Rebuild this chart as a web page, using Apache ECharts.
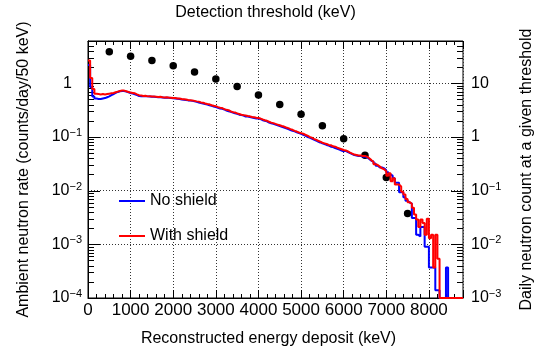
<!DOCTYPE html>
<html><head><meta charset="utf-8">
<script src="https://cdn.jsdelivr.net/npm/echarts@6/dist/echarts.min.js"></script>
<style>html,body{margin:0;padding:0;background:#fff}#c{width:551px;height:356px}</style>
</head><body><div id="c"></div>
<script>
// ---- data ----
const binWidth = 50; // keV per bin, bins start at 0
const withShield = [
2.65,1.25,0.78,0.64,0.63,0.62,0.63,0.62,0.63,0.64,
0.65,0.66,0.68,0.70,0.72,0.73,0.73,0.71,0.69,0.67,
0.66,0.65,0.62,0.60,0.59,0.58,0.585,0.57,0.575,0.565,
0.565,0.56,0.555,0.56,0.55,0.545,0.55,0.54,0.535,0.53,
0.53,0.52,0.52,0.51,0.505,0.50,0.49,0.485,0.48,0.47,
0.46,0.455,0.44,0.435,0.42,0.41,0.405,0.39,0.38,0.375,
0.36,0.35,0.345,0.33,0.32,0.315,0.30,0.29,0.285,0.275,
0.268,0.26,0.255,0.25,0.245,0.242,0.235,0.232,0.228,0.225,
0.22,0.212,0.205,0.20,0.192,0.185,0.181,0.175,0.17,0.165,
0.16,0.156,0.15,0.146,0.14,0.136,0.13,0.126,0.121,0.118,
0.115,0.11,0.106,0.10,0.097,0.092,0.089,0.085,0.082,0.078,
0.076,0.074,0.071,0.07,0.067,0.066,0.063,0.061,0.059,0.057,
0.056,0.054,0.051,0.049,0.047,0.046,0.045,0.045,0.044,0.044,
0.043,0.040,0.037,0.034,0.031,0.030,0.028,0.026,0.025,0.023,
0.019,0.021,0.015,0.017,0.013,0.013,0.012,0.0095,0.0085,0.0070,
0.0061,0.0057,0.0048,0.0036,0.0029,0.0021,0.0029,0.0025,0.0015,0.0030,
0.0013,0.0015,0.00037,0.0015,0.00054,0,0,0,0,0,
0,0,0,0,0,0
];
const noShield = [
2.2,0.85,0.57,0.52,0.51,0.51,0.52,0.53,0.55,0.57,
0.60,0.63,0.66,0.69,0.71,0.72,0.72,0.70,0.68,0.66,
0.64,0.62,0.60,0.58,0.575,0.57,0.575,0.57,0.565,0.56,
0.56,0.555,0.55,0.55,0.545,0.54,0.54,0.535,0.53,0.525,
0.52,0.515,0.51,0.50,0.495,0.49,0.48,0.475,0.47,0.46,
0.45,0.44,0.43,0.42,0.41,0.40,0.39,0.38,0.37,0.36,
0.35,0.34,0.335,0.325,0.31,0.30,0.295,0.285,0.275,0.27,
0.26,0.255,0.25,0.24,0.24,0.235,0.23,0.225,0.22,0.22,
0.215,0.205,0.20,0.195,0.185,0.18,0.175,0.17,0.165,0.16,
0.155,0.15,0.145,0.14,0.135,0.13,0.127,0.122,0.118,0.114,
0.11,0.106,0.10,0.097,0.093,0.089,0.086,0.082,0.079,0.076,
0.074,0.071,0.069,0.066,0.065,0.062,0.060,0.058,0.056,0.054,
0.055,0.052,0.050,0.048,0.046,0.045,0.044,0.044,0.043,0.043,
0.042,0.039,0.036,0.035,0.032,0.029,0.027,0.027,0.026,0.024,
0.022,0.020,0.019,0.017,0.014,0.014,0.0093,0.0093,0.0075,0.0065,
0.0060,0.0057,0.0031,0.0031,0.0015,0.0014,0.0021,0.0021,0.0009,0.0009,
0.00037,0.00037,0.00037,0.00014,0.00014,0,0,0,0.00037,0,
0,0,0,0,0,0
];
const thresholds = [500,1000,1500,2000,2500,3000,3500,4000,4500,5000,5500,6000,6500,7000,7500];
const dailyCounts = [38.7,31.8,26.5,21.2,16.3,12.0,8.7,6.05,4.03,2.65,1.62,0.93,0.457,0.175,0.0377];
const xTickLabels = ['0','1000','2000','3000','4000','5000','6000','7000','8000'];

const XMIN = 0, XMAX = 8800;
const YMIN = 1e-4, YMAX = 6.13;
const Y2MIN = 1e-3, Y2MAX = 61.3;
const FONT = 'Liberation Sans, Arial, sans-serif';

function histPoints(arr){
  const pts = arr.map((v,i)=>[i*binWidth, v>0 ? v : YMIN]);
  const last = arr[arr.length-1];
  pts.push([arr.length*binWidth, last>0?last:YMIN]);
  return pts;
}
function makeLabel(isLeft){
  return function(v){
    const e = Math.round(Math.log10(v));
    if (e === 0) return isLeft ? '{one|1}' : '{b|1}';
    if (e === 1) return '{b|10}';
    return '{b|10}{s|\u2212' + Math.abs(e) + '}';
  };
}
const richLab = {
  b:{fontSize:16, fontFamily:FONT, color:'#000'},
  one:{fontSize:16, fontFamily:FONT, color:'#000', padding:[0,10,0,0]},
  s:{fontSize:11, fontFamily:FONT, color:'#000', verticalAlign:'top', padding:[0,0,8,0]}
};
const yTicks = [];
for (let e=-4; e<=1; e++) for (let m=1; m<=9; m++){
  const v = m*Math.pow(10,e);
  if (v>=YMIN*0.999 && v<=YMAX) yTicks.push([XMIN, v, m===1?1:0]);
}

const chart = echarts.init(document.getElementById('c'));
chart.setOption({
  animation:false,
  backgroundColor:'#fff',
  textStyle:{fontFamily:FONT},
  grid:{left:88,right:88,top:35,bottom:58,show:true,borderColor:'#000',borderWidth:1,backgroundColor:'transparent'},
  legend:{
    data:['No shield','With shield'], orient:'vertical', left:114, top:188,
    itemWidth:26, itemHeight:2, itemGap:19, icon:'rect',
    textStyle:{fontSize:16, fontFamily:FONT, color:'#000'}
  },
  xAxis:[{
    type:'value', min:XMIN, max:XMAX, interval:1000, position:'bottom',
    name:'Reconstructed energy deposit (keV)', nameLocation:'middle', nameGap:33,
    nameTextStyle:{fontSize:16, fontFamily:FONT, color:'#000', padding:[0,14,0,0]},
    axisLine:{show:true, lineStyle:{color:'#000', width:1}},
    axisTick:{show:true, inside:true, length:8, lineStyle:{color:'#000'}},
    minorTick:{show:true, splitNumber:5, length:4, lineStyle:{color:'#000'}},
    axisLabel:{fontSize:17, color:'#000', margin:4, showMaxLabel:false,
      formatter:(v)=>{ const i = Math.round(v/1000); return (v%1000===0 && i<xTickLabels.length) ? xTickLabels[i] : ''; }},
    splitLine:{show:true, lineStyle:{color:'#333', type:[1,2], width:1}}
  },{
    type:'value', min:XMIN, max:XMAX, interval:1000, position:'top',
    name:'Detection threshold (keV)', nameLocation:'middle', nameGap:20,
    nameTextStyle:{fontSize:16, fontFamily:FONT, color:'#000', padding:[0,20,0,0]},
    axisLine:{show:true, lineStyle:{color:'#000', width:1}},
    axisTick:{show:true, inside:true, length:8, lineStyle:{color:'#000'}},
    minorTick:{show:true, splitNumber:5, length:4, lineStyle:{color:'#000'}},
    axisLabel:{show:false}, splitLine:{show:false}
  }],
  yAxis:[{
    type:'log', logBase:10, min:YMIN, max:YMAX, position:'left',
    name:'Ambient neutron rate (counts/day/50 keV)', nameLocation:'middle', nameGap:56, nameRotate:90,
    nameTextStyle:{fontSize:16, fontFamily:FONT, color:'#000'},
    axisLine:{show:true, lineStyle:{color:'#000'}},
    axisTick:{show:false},
    axisLabel:{margin:6, showMaxLabel:false, formatter:makeLabel(true), rich:richLab},
    splitLine:{show:true, lineStyle:{color:'#333', type:[1,2], width:1}}
  },{
    type:'log', logBase:10, min:Y2MIN, max:Y2MAX, position:'right',
    name:'Daily neutron count at a given threshold', nameLocation:'middle', nameGap:56, nameRotate:90,
    nameTextStyle:{fontSize:16, fontFamily:FONT, color:'#000'},
    axisLine:{show:true, lineStyle:{color:'#000'}},
    axisTick:{show:false},
    axisLabel:{margin:8, showMaxLabel:false, formatter:makeLabel(false), rich:richLab},
    splitLine:{show:false}
  }],
  series:[
    {
      type:'custom', name:'ticks', xAxisIndex:0, yAxisIndex:0, silent:true, clip:false,
      data:yTicks, encode:{x:0,y:1},
      renderItem:(params, api)=>{
        const v = api.value(1), major = api.value(2)===1;
        const pL = api.coord([XMIN, v]), pR = api.coord([XMAX, v]);
        const len = major?12:6;
        const y = Math.round(pL[1])+0.5;
        return {type:'group', children:[
          {type:'line', shape:{x1:pL[0], y1:y, x2:pL[0]+len, y2:y}, style:{stroke:'#000', lineWidth:1}},
          {type:'line', shape:{x1:pR[0]-len, y1:y, x2:pR[0], y2:y}, style:{stroke:'#000', lineWidth:1}}
        ]};
      }
    },
    {
      type:'line', name:'No shield', xAxisIndex:0, yAxisIndex:0, step:'end', showSymbol:false,
      data:histPoints(noShield), clip:true,
      lineStyle:{color:'#0000ff', width:2}, itemStyle:{color:'#0000ff'}
    },
    {
      type:'line', name:'With shield', xAxisIndex:0, yAxisIndex:0, step:'end', showSymbol:false,
      data:histPoints(withShield), clip:true,
      lineStyle:{color:'#ff0000', width:2}, itemStyle:{color:'#ff0000'}
    },
    {
      type:'scatter', name:'threshold', xAxisIndex:0, yAxisIndex:1, symbol:'circle', symbolSize:7.5,
      data:thresholds.map((t,i)=>[t, dailyCounts[i]]),
      itemStyle:{color:'#000', opacity:1}
    }
  ]
});
</script></body></html>
